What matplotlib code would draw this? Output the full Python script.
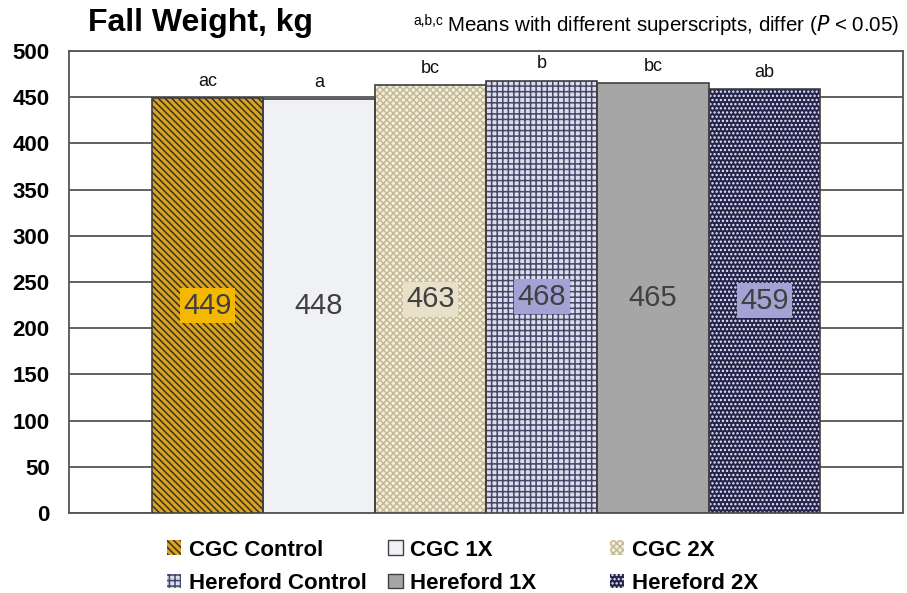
import numpy as np
import matplotlib.pyplot as plt
from matplotlib.patches import Patch

plt.rcParams['font.family'] = ['Liberation Sans', 'DejaVu Sans']
plt.rcParams['hatch.linewidth'] = 1.1

# Data
groups = ["CGC Control", "CGC 1X", "CGC 2X",
          "Hereford Control", "Hereford 1X", "Hereford 2X"]
weights = [449, 448, 463, 468, 465, 459]
letters = ["ac", "a", "bc", "b", "bc", "ab"]

# Styles: face colour, hatch, hatch colour, label box colour
faces = ["#D9A521", "#EFF1F5", "#F4EFDF", "#DCDDEA", "#A6A6A6", "#24244E"]
hatches = ["\\\\\\\\\\", None, "xxxxx", "+++", None, "...."]
hatch_cols = ["#3A3020", None, "#C4B995", "#44466A", None, "#EDEDF4"]
box_cols = ["#F5B800", None, "#E9E0CA", "#A3A2D4", None, "#A3A2D4"]
edge = "#404040"

fig = plt.figure(figsize=(9.07, 5.93), dpi=100)
ax = fig.add_axes([0.0761, 0.1349, 0.9195, 0.7791])

x = np.arange(len(groups))
for i in x:
    if hatches[i]:
        ax.bar(x[i], weights[i], width=1.0, color=faces[i], hatch=hatches[i],
               edgecolor=hatch_cols[i], linewidth=0, zorder=3)
    else:
        ax.bar(x[i], weights[i], width=1.0, color=faces[i], linewidth=0, zorder=3)
    ax.bar(x[i], weights[i], width=1.0, fill=False, edgecolor=edge,
           linewidth=1.2, zorder=4)

    bbox = None
    if box_cols[i]:
        bbox = dict(boxstyle="square,pad=0.12", facecolor=box_cols[i], edgecolor="none")
    ax.text(x[i], weights[i] / 2, str(weights[i]), ha="center", va="center",
            fontsize=21, color="#404040", bbox=bbox, zorder=5)
    ax.annotate(letters[i], (x[i], weights[i]), xytext=(0, 6),
                textcoords="offset points", ha="center", va="bottom",
                fontsize=13, color="#111111")

ax.set_xlim(-1.245, 6.245)
ax.set_ylim(0, 500)
ax.set_yticks(np.arange(0, 501, 50))
ax.set_xticks([])
ax.yaxis.grid(True, color="#555555", linewidth=1.3, zorder=0)
ax.set_axisbelow(True)
ax.tick_params(axis="y", length=0, pad=14, labelsize=16)
for lab in ax.get_yticklabels():
    lab.set_fontweight("bold")
for s in ax.spines.values():
    s.set_color("#555555")
    s.set_linewidth(1.3)

fig.text(0.097, 0.947, "Fall Weight, kg", fontsize=23, fontweight="bold",
         va="baseline")
fig.text(0.992, 0.947,
         r"Means with different superscripts, differ ($\it{P}$ < 0.05)",
         fontsize=14.8, ha="right", va="baseline")
fig.text(0.456, 0.958, "a,b,c", fontsize=10, ha="left", va="baseline")

# legend: one small legend per column, equally spaced like the original
handles = []
for i in x:
    if hatches[i]:
        h = Patch(facecolor=faces[i], hatch=hatches[i], edgecolor=hatch_cols[i],
                  linewidth=0)
    else:
        h = Patch(facecolor=faces[i], edgecolor=edge, linewidth=1)
    handles.append(h)

col_x = [0.184, 0.428, 0.672]
for c in range(3):
    fig.legend([handles[c], handles[c + 3]], [groups[c], groups[c + 3]],
               loc="upper left", bbox_to_anchor=(col_x[c], 0.09),
               borderaxespad=0, borderpad=0, frameon=False,
               handlelength=0.65, handleheight=0.65, handletextpad=0.35,
               labelspacing=0.55, prop={"size": 16, "weight": "bold"})

fig.savefig("out.png", dpi=100)
